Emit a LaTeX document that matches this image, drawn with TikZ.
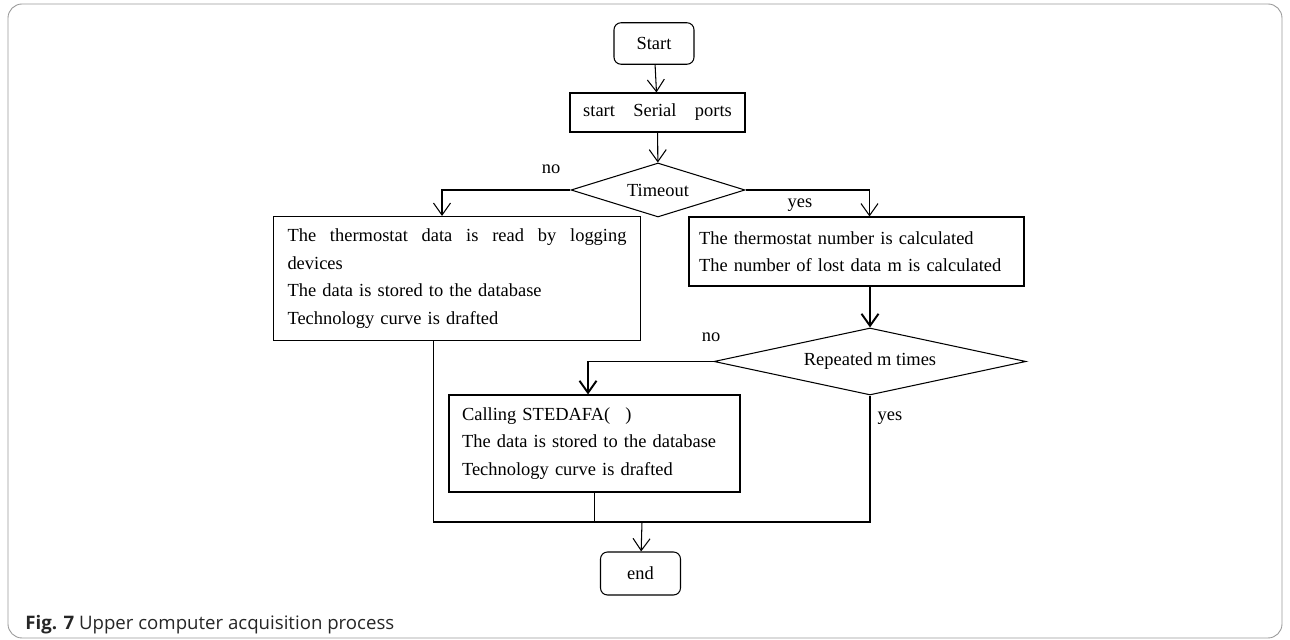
\documentclass[tikz,border=0pt]{standalone}
\usepackage{fontspec}
\setmainfont{Liberation Serif}
\newfontfamily\capfont{Open Sans}
\usetikzlibrary{shapes.geometric,arrows.meta}

\begin{document}
\begin{tikzpicture}[
    line width=0.6pt,
    >={Straight Barb[length=2.4mm,width=3.4mm]},
    font=\fontsize{10.5}{15.6}\selectfont,
    term/.style={draw, rounded corners=4pt, minimum width=1.6cm, minimum height=0.83cm},
    box/.style={draw, inner xsep=0.28cm, inner ysep=0pt, align=left},
    decision/.style={draw, diamond, inner sep=0pt}
]

    % Ukuran gambar dan bingkai
    \useasboundingbox (0,0) rectangle (25.8,12.8);
    \draw[gray!80, line width=0.5pt, rounded corners=8pt] (0.16,0.04) rectangle (25.64,12.72);

    % Awal
    \node[term] (start) at (13.08,11.93) {Start};
    \node[draw, minimum width=3.5cm, minimum height=0.78cm] (serial) at (13.15,10.55) {start\quad Serial\quad ports};
    \node[decision, minimum width=3.48cm, minimum height=1.08cm, aspect=3] (timeout) at (13.16,9.0) {Timeout};

    % Cabang no
    \node[box, text width=6.78cm, minimum height=2.48cm] (readbox) at (9.14,7.23)
        {The\hfill thermostat\hfill data\hfill is\hfill read\hfill by\hfill logging\\devices\\The data is stored to the database\\Technology curve is drafted};

    % Cabang yes
    \node[box, text width=6.3cm, minimum height=1.38cm, inner xsep=0.2cm] (calcbox) at (17.13,7.77)
        {The thermostat number is calculated\\The number of lost data m is calculated};
    \node[decision, minimum width=6.24cm, minimum height=1.34cm, aspect=4.5] (repeat) at (17.4,5.57) {Repeated m times};
    \node[box, text width=5.3cm, minimum height=1.94cm, inner xsep=0.26cm] (callbox) at (11.89,3.93)
        {Calling STEDAFA(\hspace{0.3cm})\\The data is stored to the database\\Technology curve is drafted};

    % Akhir
    \coordinate (merge) at (12.84,2.36);
    \node[term, minimum height=0.86cm] (stop) at (12.81,1.33) {end};

    % Label
    \node (no1) at (11.02,9.42) {no};
    \node (yes1) at (16.0,8.7) {yes};
    \node (no2) at (14.22,6.06) {no};
    \node (yes2) at (17.8,4.44) {yes};

    % Panah
    \draw[->] (start) -- (serial);
    \draw[->] (serial) -- (timeout);
    \draw[->] (timeout.west) -| ([xshift=-0.3cm]readbox.north);
    \draw[->] (timeout.east) -| ([xshift=0.26cm]calcbox.north);
    \draw[->, line width=1.1pt] (repeat.north |- calcbox.south) -- (repeat.north);
    \draw[->, line width=1.1pt] (repeat.west) -| ([xshift=-0.13cm]callbox.north);
    \draw ([xshift=-0.47cm]readbox.south) |- (merge) -| (repeat.south);
    \draw (callbox.south) -- (callbox.south |- merge);
    \draw[->] (merge) -- (stop);

    % Keterangan
    \node[anchor=west, font=\capfont\fontsize{10.6}{13}\selectfont, text=black!85] (caption) at (0.38,0.3)
        {\textbf{Fig. 7} Upper computer acquisition process};

\end{tikzpicture}
\end{document}
